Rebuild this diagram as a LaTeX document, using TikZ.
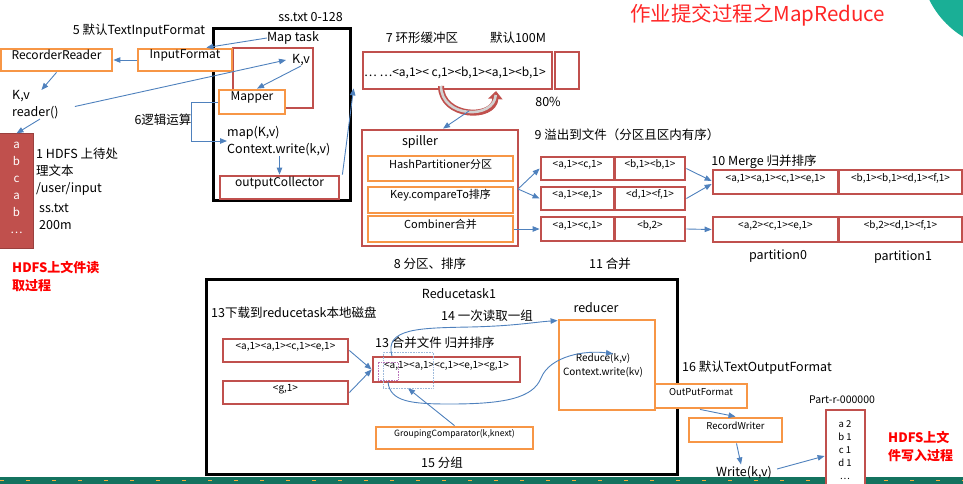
\documentclass[tikz,border=0pt]{standalone}
\usepackage{fontspec}
\setmainfont{Noto Sans CJK SC}
\usetikzlibrary{arrows.meta,fit,calc}
\definecolor{rc}{RGB}{192,80,77}
\definecolor{oc}{RGB}{247,150,70}
\definecolor{bc}{RGB}{79,129,189}
\definecolor{tc}{RGB}{26,175,150}
\definecolor{band}{RGB}{20,115,95}
\tikzset{
  lbl/.style={inner sep=0pt, font=\fontsize{12.5}{17}\selectfont},
  sml/.style={inner sep=0pt, font=\fontsize{10}{12}\selectfont},
  rbox/.style={draw=rc, line width=2.8pt, fill=white, inner sep=0pt, font=\fontsize{10}{12}\selectfont},
  obox/.style={draw=oc, line width=2.8pt, fill=white, inner sep=0pt, font=\fontsize{11}{14}\selectfont},
  blk/.style={draw=black, line width=3pt, inner sep=0pt},
  arr/.style={draw=bc, line width=0.9pt, -{Triangle[length=7pt,width=5.5pt]}},
  redlbl/.style={inner sep=0pt, text=red, font=\bfseries\fontsize{13}{18}\selectfont, align=left}
}
\begin{document}
\begin{tikzpicture}[x=1pt,y=-1pt]
\useasboundingbox (0,0) rectangle (963,483);
% decorations
\fill[tc] (1010,-40) circle (90);
\fill[band] (0,477) rectangle (963,490);
\draw[oc!80!yellow, line width=1pt, dash pattern=on 4pt off 22pt] (0,480) -- (963,480);
% title
\node[inner sep=0pt, text=red!85!white, font=\fontsize{20.5}{24}\selectfont, anchor=west] (title) at (630,15) {作业提交过程之MapReduce};

% ---------- map task ----------
\node[blk, fit={(213,28)(350,200)}] (maptask) {};
\node[lbl, anchor=east] (sstxt) at (343,17) {ss.txt 0-128};
\node[lbl] (mtl) at (293,38) {Map task};
\node[lbl] (tif) at (139,31) {5 默认TextInputFormat};
\node[rbox, fill=none, fit={(233,48)(313,108)}] (kvbox) {};
\node[lbl] (kv) at (301,60) {K,v};
\node[obox, fit={(138,49)(232,71)}, font=\fontsize{12}{14}\selectfont] (inputformat) {InputFormat};
\node[obox, fit={(1,49)(112,71)}, font=\fontsize{12}{14}\selectfont] (recorder) {RecorderReader};
\node[obox, fit={(219,90)(285,114)}, font=\fontsize{12}{14}\selectfont] (mapper) {Mapper};
\node[lbl, align=left, anchor=north west] (reader) at (12,90) {K,v\\reader()};
\node[lbl] (logic) at (163,120) {6逻辑运算};
\node[lbl, align=left, anchor=west] (mapk) at (227,141) {map(K,v)\\Context.write(k,v)};
\node[rbox, fit={(220,176)(339,199)}, font=\fontsize{12}{14}\selectfont] (ocol) {outputCollector};

\draw[arr] (inputformat.west) -- (recorder.east);
\draw[arr] (mtl.west) -- ([xshift=-27pt]inputformat.north east);
\draw[arr] (recorder.south) -- ([xshift=6pt]reader.north);
\draw[arr] ([xshift=16pt,yshift=-2pt]reader.east) -- ([xshift=-6pt]kv.west);
\draw[arr] (kv.south) -- ([xshift=5pt]mapper.north);
\draw[arr] (mapper.west) -- ++(-26,0) |- (mapk.west);
\draw[arr] (ocol.north |- mapk.south) -- (ocol.north);

% ---------- HDFS input ----------
\node[fill=rc, draw=rc!80!black, line width=0.6pt, fit={(3,137)(30,245)}, text=white, align=center, font=\fontsize{11.5}{17}\selectfont] (hdfs) {a\\b\\c\\a\\b\\…};
\draw[arr] ([xshift=28pt]reader.south west) -- (hdfs.north);
\node[lbl, align=left, anchor=north west] (hdfsdesc) at (36,148) {1 HDFS 上待处\\理文本\\/user/input};
\node[lbl, align=left, anchor=north west] (ss200) at (39,204) {ss.txt\\200m};
\node[redlbl, anchor=north west] (readproc) at (12,261) {HDFS上文件读\\取过程};

% ---------- ring buffer ----------
\node[lbl] (ring) at (422,38) {7 环形缓冲区};
\node[lbl] (def100) at (518,38) {默认100M};
\node[rbox, fit={(363,52)(552,89)}] (buf) {};
\node[rbox, fit={(555,52)(579,89)}] (buf2) {};
\node[inner sep=0pt, anchor=west, font=\fontsize{12}{14}\selectfont] (buftxt) at (364,73) {… …<a,1>< c,1><b,1><a,1><b,1>};
\node[lbl] (pct) at (548,102) {80\%};
\draw[arr] ([xshift=2pt]ocol.north east) -- ($(buf.south west)+(-8,-2)$);
\draw[rc, line width=6pt, -{Triangle[length=8pt,width=14pt]}] (441,86) .. controls (441,118) and (494,120) .. (496,91);
\draw[gray!35, line width=2.6pt, shorten >=4pt] (441,86) .. controls (441,118) and (494,120) .. (496,91);
\coordinate (ubot) at (469,111);

% ---------- spiller ----------
\node[rbox, fit={(362,130)(518,246)}] (spiller) {};
\node[lbl] (spl) at (420,142) {spiller};
\node[obox, fit={(368,156)(513,181)}] (hash) {HashPartitioner分区};
\node[obox, fit={(368,187)(513,213)}] (key) {Key.compareTo排序};
\node[obox, fit={(368,216)(513,242)}] (comb) {Combiner合并};
\node[lbl] (sortl) at (430,264) {8 分区、排序};
\draw[arr] (ubot) -- ([xshift=3pt]spiller.north);

% ---------- spill files ----------
\node[lbl] (spilll) at (627,135) {9 溢出到文件（分区且区内有序）};
\node[rbox, fit={(541,157)(614,180)}] (r1a) {<a,1><c,1>};
\node[rbox, fit={(615,157)(685,180)}] (r1b) {<b,1><b,1>};
\node[rbox, fit={(541,187)(614,210)}] (r2a) {<a,1><e,1>};
\node[rbox, fit={(615,187)(685,210)}] (r2b) {<d,1><f,1>};
\node[rbox, fit={(541,217)(614,241)}] (r3a) {<a,1><c,1>};
\node[rbox, fit={(615,217)(685,241)}] (r3b) {<b,2>};
\node[lbl] (combl) at (610,264) {11 合并};
\coordinate (split) at (518,189);
\draw[arr] (split) -- (r1a.west);
\draw[arr] (split) -- (r2a.west);
\draw[arr] (comb.east) -- (r3a.west);

% ---------- merge ----------
\node[lbl] (mergel) at (764,162) {10 Merge 归并排序};
\node[rbox, fit={(713,170)(838,194)}] (m1a) {<a,1><a,1><c,1><e,1>};
\node[rbox, fit={(839,170)(962,194)}] (m1b) {<b,1><b,1><d,1><f,1>};
\node[rbox, fit={(713,217)(838,242)}] (m2a) {<a,2><c,1><e,1>};
\node[rbox, fit={(839,217)(962,242)}] (m2b) {<b,2><d,1><f,1>};
\node[lbl] (p0) at (778,256) {partition0};
\node[lbl] (p1) at (903,257) {partition1};
\draw[arr] (r1b.east) -- ([yshift=1pt]m1a.west);
\draw[arr] (r2b.east) -- ([yshift=-2pt]m1a.west);
\draw[arr] (r3b.east) -- (m2a.west);

% ---------- reduce task ----------
\node[blk, fit={(206,279)(677,474)}] (redtask) {};
\node[lbl] (rtl) at (459,294) {Reducetask1};
\node[lbl, anchor=west] (dll) at (211,313) {13下载到reducetask本地磁盘};
\node[rbox, fit={(223,339)(348,362)}] (dl1) {<a,1><a,1><c,1><e,1>};
\node[rbox, fit={(223,381)(348,404)}] (dl2) {<g,1>};
\node[lbl, anchor=west] (mgl) at (375,343) {13 合并文件 归并排序};
\node[rbox, fit={(373,357)(520,382)}] (merged) {<a,1><a,1><c,1><e,1><g,1>};
\node[draw=bc!55, densely dotted, line width=0.6pt, inner sep=0pt, fit={(383,352)(433,388)}] (dash1) {};
\node[draw=violet!55, densely dotted, line width=0.6pt, inner sep=0pt, fit={(378,362)(398,380)}] (dash2) {};
\draw[arr] (dl1.east) -- (merged.west);
\draw[arr] (dl2.east) -- (merged.west);
\node[lbl] (onegrp) at (487,316) {14 一次读取一组};
\node[obox, fit={(559,320)(655,410)}] (reducer) {};
\node[lbl] (redl) at (596,308) {reducer};
\node[inner sep=0pt, align=center, font=\fontsize{10}{14}\selectfont] (rtext) at (603,365) {Reduce(k,v)\\Context.write(kv)};
\draw[arr] (392,356) .. controls (384,328) and (420,328) .. (470,327) .. controls (515,326) and (535,322) .. ([yshift=-2pt]reducer.north west);
\draw[arr] (388,382) .. controls (390,402) and (412,404) .. (450,404) .. controls (505,404) and (533,398) .. (541,378) .. controls (550,356) and (585,350) .. ([xshift=10pt,yshift=-1pt]rtext.north);
\node[obox, fit={(376,427)(533,449)}, font=\fontsize{8.6}{11}\selectfont] (grp) {GroupingComparator(k,knext)};
\draw[arr] (grp.north) -- (dash1.south);
\node[lbl] (grpl) at (442,463) {15 分组};

% ---------- output ----------
\node[lbl, anchor=west] (tof) at (682,368) {16 默认TextOutputFormat};
\node[obox, fit={(655,384)(747,408)}, font=\fontsize{9.5}{11}\selectfont] (outf) {OutPutFormat};
\node[obox, fit={(689,418)(782,442)}, font=\fontsize{9.5}{11}\selectfont] (recw) {RecordWriter};
\node[lbl] (write) at (744,473) {Write(k,v)};
\node[rbox, fit={(826,410)(865,492)}] (part) {};
\node[inner sep=0pt, align=center, font=\fontsize{9.5}{13}\selectfont] (parttxt) at (845,450) {a 2\\b 1\\c 1\\d 1\\…};
\node[sml, font=\fontsize{10.5}{12}\selectfont] (partl) at (842,400) {Part-r-000000};
\node[redlbl, anchor=north west] (writeproc) at (888,431) {HDFS上文\\件写入过程};
\draw[arr] ([xshift=-1pt]outf.south) -- (recw.north);
\draw[arr] ([xshift=1pt]recw.south) -- ([xshift=-3pt,yshift=2pt]write.north);
\draw[arr] ([xshift=5pt,yshift=4pt]write.east) -- ([yshift=-5pt]part.west);
\end{tikzpicture}
\end{document}
